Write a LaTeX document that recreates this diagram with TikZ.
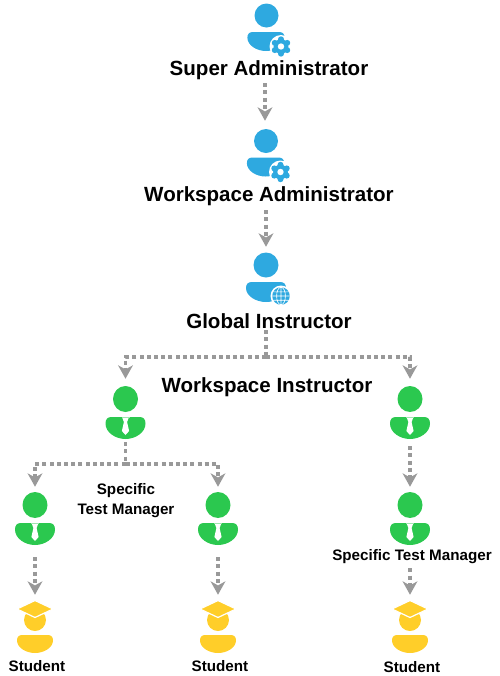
\documentclass[tikz,border=0pt]{standalone}
\usepackage{fontspec}
\setmainfont{Liberation Sans}
\usetikzlibrary{arrows.meta,positioning}
\definecolor{adminblue}{HTML}{2EA9E0}
\definecolor{staffgreen}{HTML}{2BC84F}
\definecolor{pupilyellow}{HTML}{FFCE29}
\definecolor{flowgray}{HTML}{999999}

\begin{document}
\begin{tikzpicture}[x=0.75pt, y=-0.75pt,
  biglabel/.style={font=\fontsize{15.4}{18}\selectfont\bfseries, inner sep=0pt, minimum height=18pt},
  smalllabel/.style={font=\fontsize{11.4}{15}\selectfont\bfseries, inner sep=0pt, align=center},
  iconbox/.style={inner sep=0pt, minimum width=30pt, minimum height=#1},
  iconbox/.default=45pt,
  flow/.style={flowgray, line width=2.5pt, dash pattern=on 3pt off 2.4pt, -{Stealth[length=10pt, width=11pt, inset=3pt]}},
  trunk/.style={flowgray, line width=2.5pt, dash pattern=on 3pt off 2.4pt},
  body/.pic={
    \fill[#1] (-14,0) -- (14,0) .. controls (18,0) and (20,2) .. (20,6)
      .. controls (20,14) and (10,20) .. (0,20)
      .. controls (-10,20) and (-20,14) .. (-20,6)
      .. controls (-20,2) and (-18,0) .. (-14,0) -- cycle;
  },
  gearicon/.pic={
    \fill[white] (0,0) circle (11.5);
    \foreach \a in {0, 60, ..., 300} \fill[adminblue] (\a+30:7.2) circle (3);
    \fill[adminblue] (0,0) circle (7.4);
    \fill[white] (0,0) circle (3.2);
  },
  globeicon/.pic={
    \fill[white] (0,0) circle (10.5);
    \fill[adminblue] (0,0) circle (8.8);
    \draw[white, line width=0.45pt] (0,-8.8) -- (0,8.8) (-8.8,0) -- (8.8,0)
      (-8,-4.2) -- (8,-4.2) (-8,4.2) -- (8,4.2) (0,0) ellipse (4.4 and 8.8);
  },
  adminicon/.pic={
    \fill[adminblue] (0.5,-16.5) circle (12);
    \pic[xscale=0.93, yscale=0.95] at (0,0) {body=adminblue};
    \pic at (15,14.5) {gearicon};
  },
  globalicon/.pic={
    \fill[adminblue] (0,-17) circle (12.5);
    \pic at (0,0) {body=adminblue};
    \pic at (15,14) {globeicon};
  },
  managericon/.pic={
    \fill[staffgreen] (0,-18) ellipse (12.5 and 13);
    \pic[yscale=1.1] at (0,0) {body=staffgreen};
    \fill[white] (-3.5,0) -- (3.5,0) -- (1.6,5) -- (3.6,14) -- (0,18) -- (-3.6,14) -- (-1.6,5) -- cycle;
    \draw[staffgreen!45, line width=0.4pt] (-4,0.2) -- (4,0.2);
  },
  studenticon/.pic={
    \fill[pupilyellow] (0,-15) circle (11);
    \fill[pupilyellow, draw=white, line width=0.9pt] (0,-34.5) -- (18,-26) -- (0,-17.5) -- (-18,-26) -- cycle;
    \pic[xscale=0.9, yscale=0.9] at (0,0) {body=pupilyellow};
  }]
\useasboundingbox (0,0) rectangle (500,676);

% Admins
\node[iconbox] (superadmin) at (266,26) {};
\node[biglabel] (superlabel) at (269,70) {Super Administrator};
\node[iconbox] (wsadmin) at (265,151) {};
\node[biglabel] (wslabel) at (269,196) {Workspace Administrator};
\node[iconbox] (globalinst) at (266,277) {};
\node[biglabel] (globallabel) at (269,321) {Global Instructor};
\node[biglabel] (wsinstlabel) at (267,387) {Workspace Instructor};

% Managers
\node[iconbox=47.25pt] (leftinst) at (125.5,410.5) {};
\node[iconbox=47.25pt] (rightinst) at (410,410.5) {};
\node[iconbox=52.5pt] (leftmgr) at (35,522) {};
\node[iconbox=52.5pt] (midmgr) at (218,522) {};
\node[iconbox=52.5pt] (rightmgr) at (410,522) {};
\node[smalllabel] (leftmgrlabel) at (126,501) {Specific\\Test Manager};
\node[smalllabel] (rightmgrlabel) at (412,557) {Specific Test Manager};

% Students
\node[iconbox] (leftstud) at (35,625) {};
\node[iconbox] (midstud) at (218,625) {};
\node[iconbox] (rightstud) at (410,625) {};
\node[smalllabel] (leftstudlabel) at (37,666) {Student};
\node[smalllabel] (midstudlabel) at (220,666) {Student};
\node[smalllabel] (rightstudlabel) at (412,667) {Student};

% Icons
\pic at (266,32) {adminicon};
\pic at (265.5,157.5) {adminicon};
\pic at (266,282) {globalicon};
\foreach \n/\y in {leftinst/417, rightinst/417, leftmgr/523, midmgr/523, rightmgr/523}
  \pic at (\n |- 0,\y) {managericon};
\foreach \n in {leftstud, midstud, rightstud}
  \pic at (\n |- 0,635) {studenticon};

% Connectors
\coordinate (split) at (globalinst |- 0,357);
\coordinate (splitleft) at (leftinst |- split);
\coordinate (splitright) at (rightinst |- split);
\coordinate (forkmid) at (leftinst |- 0,464);
\coordinate (forkleft) at (leftmgr |- forkmid);
\coordinate (forkright) at (midmgr |- forkmid);

\draw[flow] (wsadmin |- superlabel.south) ++(0,1) -- (wsadmin.north);
\draw[flow] (globalinst |- wslabel.south) ++(0,2) -- (globalinst.north);
\draw[trunk] (globalinst |- globallabel.south) ++(0,-3) -- (split);
\draw[flow] (split) -- (splitleft) -- (leftinst.north);
\draw[flow] (split) -- (splitright) -- (rightinst.north);
\draw[trunk] (leftinst.south) -- (forkmid);
\draw[flow] (forkmid) -- (forkleft) -- (leftmgr.north);
\draw[flow] (forkmid) -- (forkright) -- (midmgr.north);
\draw[flow, shorten <=3pt] (rightinst.south) -- (rightmgr.north);
\draw[flow] (leftmgr.south) -- (leftstud.north);
\draw[flow] (midmgr.south) -- (midstud.north);
\draw[flow, shorten <=3pt] (rightstud |- rightmgrlabel.south) -- (rightstud.north);

\end{tikzpicture}
\end{document}
